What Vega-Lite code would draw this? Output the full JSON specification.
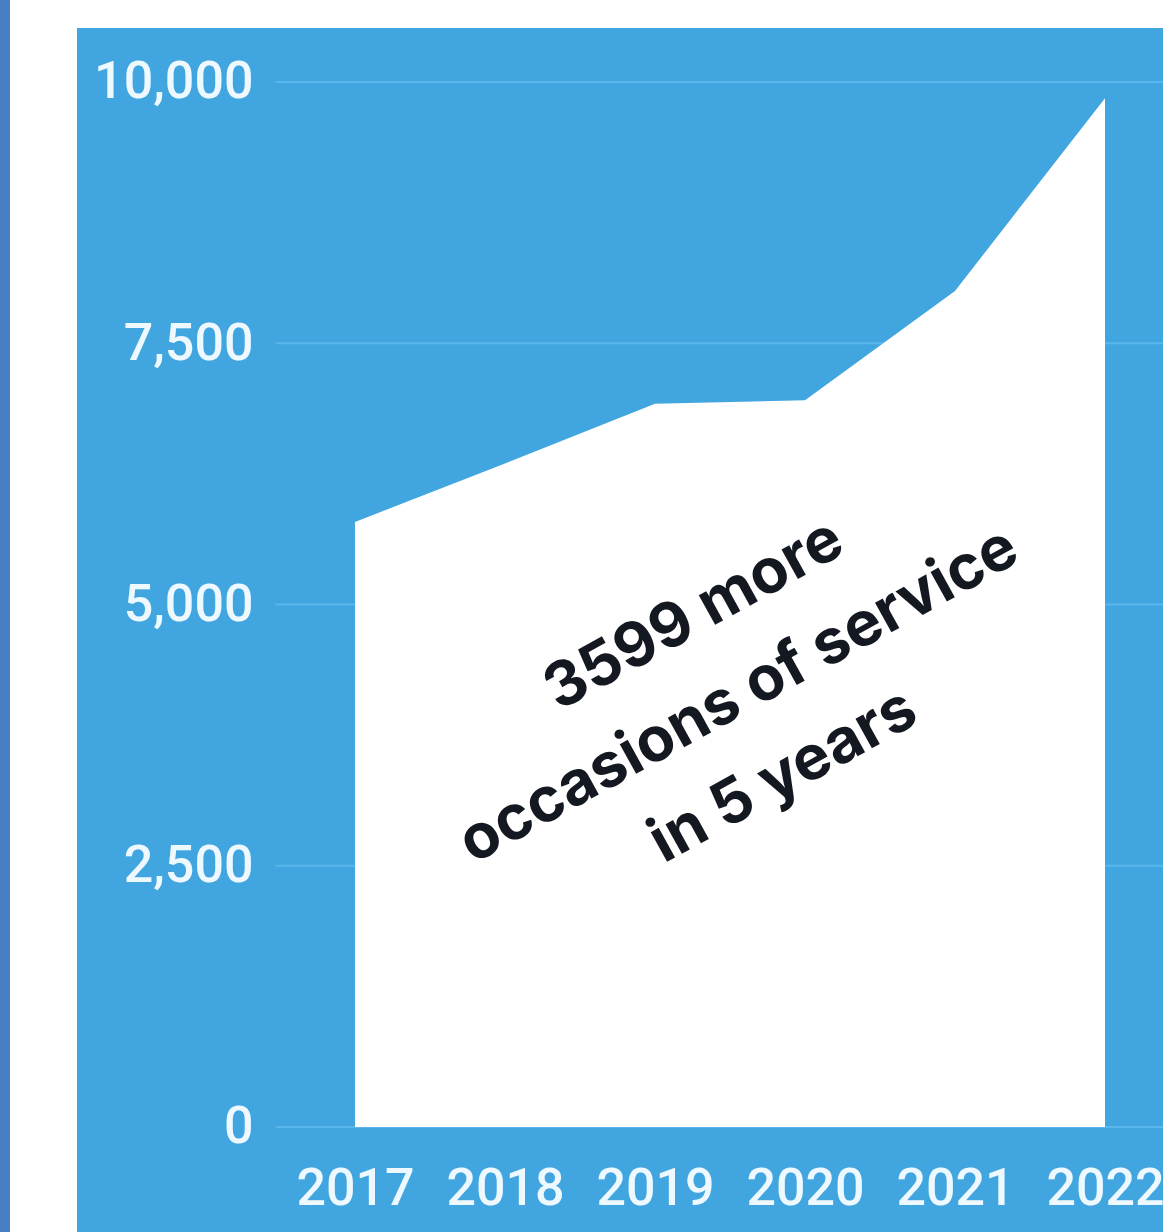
{
  "$schema": "https://vega.github.io/schema/vega-lite/v6.json",
  "width": 1086,
  "height": 1204,
  "autosize": {"type": "none"},
  "padding": {"left": 77, "top": 28, "right": 0, "bottom": 0},
  "background": "#ffffff",
  "config": {
    "view": {"fill": "#41a6df", "stroke": null},
    "axis": {"labelFont": "Roboto", "labelFontWeight": 500, "labelColor": "#eef8ff", "labelFontSize": 52, "labelLimit": 400, "ticks": false, "domain": false, "grid": false, "title": null, "labelFlush": false, "labelOverlap": false},
    "axisX": {"orient": "bottom", "offset": -105, "labelPadding": 36, "labelBaseline": "top"},
    "axisY": {"orient": "left", "offset": -176, "labelPadding": 0}
  },
  "datasets": {
    "series": [
      {"year": 2017, "count": 5790},
      {"year": 2018, "count": 6350},
      {"year": 2019, "count": 6920},
      {"year": 2020, "count": 6955},
      {"year": 2021, "count": 8000},
      {"year": 2022, "count": 9845}
    ],
    "grid": [{"v": 0}, {"v": 2500}, {"v": 5000}, {"v": 7500}, {"v": 10000}],
    "note": [{"label": "3599 more\noccasions of service\nin 5 years"}],
    "strip": [{"a": 1}]
  },
  "layer": [
    {
      "data": {"name": "strip"},
      "mark": {"type": "rect", "color": "#4a7ec3", "clip": false},
      "encoding": {
        "x": {"datum": 2014.6333, "type": "quantitative", "axis": {"values": [2017, 2018, 2019, 2020, 2021, 2022], "format": "d"}},
        "x2": {"datum": 2014.7},
        "y": {"datum": -1004.8, "type": "quantitative", "axis": {"values": [0, 2500, 5000, 7500, 10000], "format": ",.0f"}},
        "y2": {"datum": 10784.6}
      }
    },
    {
      "data": {"name": "grid"},
      "mark": {"type": "rule", "color": "#5ab7ec", "strokeWidth": 2, "clip": true},
      "encoding": {
        "x": {"datum": 2016.47, "type": "quantitative", "axis": {"values": [2017, 2018, 2019, 2020, 2021, 2022], "format": "d"}},
        "x2": {"datum": 2022.5},
        "y": {"field": "v", "type": "quantitative", "axis": {"values": [0, 2500, 5000, 7500, 10000], "format": ",.0f"}}
      }
    },
    {
      "data": {"name": "series"},
      "mark": {"type": "area", "color": "#ffffff", "opacity": 1},
      "encoding": {
        "x": {
          "field": "year", "type": "quantitative",
          "scale": {"domain": [2015.1467, 2022.3867], "nice": false, "zero": false},
          "axis": {"values": [2017, 2018, 2019, 2020, 2021, 2022], "format": "d"}
        },
        "y": {
          "field": "count", "type": "quantitative",
          "scale": {"domain": [-1004.8, 10516.7], "nice": false, "zero": false},
          "axis": {"values": [0, 2500, 5000, 7500, 10000], "format": ",.0f"}
        },
        "y2": {"datum": 0}
      }
    },
    {
      "data": {"name": "note"},
      "mark": {"type": "text", "font": "Inter", "fontWeight": 700, "fontSize": 62, "lineHeight": 92, "angle": -29, "align": "center", "baseline": "middle", "color": "#141821", "lineBreak": "\n"},
      "encoding": {
        "x": {"datum": 2019.26, "type": "quantitative", "axis": {"values": [2017, 2018, 2019, 2020, 2021, 2022], "format": "d"}},
        "y": {"datum": 4900, "type": "quantitative", "axis": {"values": [0, 2500, 5000, 7500, 10000], "format": ",.0f"}},
        "text": {"field": "label"}
      }
    }
  ],
  "resolve": {"scale": {"x": "shared", "y": "shared"}}
}
